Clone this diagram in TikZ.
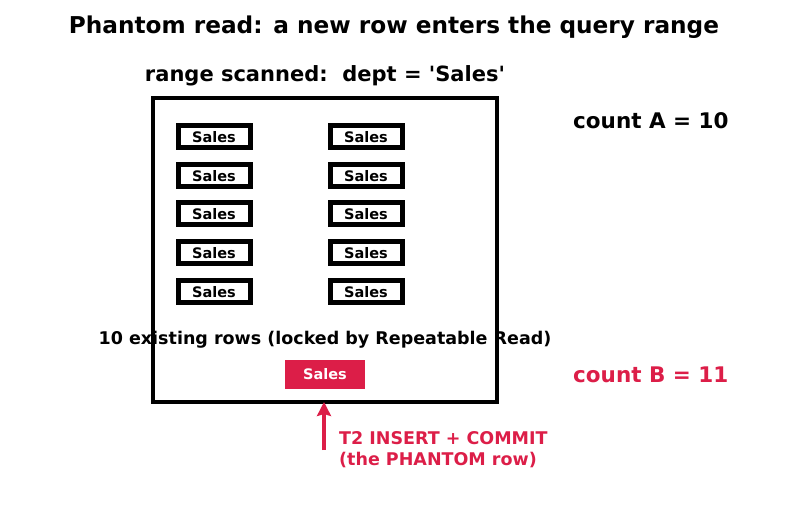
\documentclass[tikz,border=0pt]{standalone}
\usepackage{fontspec}
\setmainfont{DejaVu Sans}
\usetikzlibrary{arrows.meta}
\definecolor{phantomred}{RGB}{220,30,72}

\tikzset{
  rowbox/.style = {rectangle,
                   draw,
                   line width = 5pt,
                   fill = white,
                   minimum width = 72pt,
                   minimum height = 22pt,
                   inner sep = 0pt,
                   font = \bfseries\fontsize{14.5}{17}\selectfont},
  txtlbl/.style = {font = \bfseries\fontsize{17.5}{21}\selectfont}
}

\begin{document}
\begin{tikzpicture}[x=1pt,y=-1pt,->,>={Stealth[length=14pt,width=14pt,inset=2pt]}]

    \useasboundingbox (0,0) rectangle (787,510);

    \node[font = \bfseries\fontsize{23.2}{28}\selectfont] (title) at (394,27)
        {Phantom read: a new row enters the query range};
    \node[font = \bfseries\fontsize{21}{25}\selectfont] (scan) at (325,76)
        {range scanned:\ \ dept = \textquotesingle Sales\textquotesingle};

    \node[rectangle,
          draw,
          line width = 4.5pt,
          minimum width = 344pt,
          minimum height = 304pt
          ] (range) at (325,250) {};

    % left column
    \node[rowbox] (l1) at (214,137) {Sales};
    \node[rowbox] (l2) at (214,176) {Sales};
    \node[rowbox] (l3) at (214,214) {Sales};
    \node[rowbox] (l4) at (214,253) {Sales};
    \node[rowbox] (l5) at (214,292) {Sales};
    % right column
    \node[rowbox] (r1) at (366,137) {Sales};
    \node[rowbox] (r2) at (366,176) {Sales};
    \node[rowbox] (r3) at (366,214) {Sales};
    \node[rowbox] (r4) at (366,253) {Sales};
    \node[rowbox] (r5) at (366,292) {Sales};

    \node[txtlbl] (exist) at (325,340)
        {10 existing rows (locked by Repeatable Read)};

    \node[rectangle,
          fill = phantomred,
          text = white,
          minimum width = 80pt,
          minimum height = 29pt,
          font = \bfseries\fontsize{14.5}{17}\selectfont
          ] (phantom) at (325,374.5) {Sales};

    \node[txtlbl, text = phantomred, anchor = west, align = left, inner sep = 0pt] (ins) at (339,450)
        {T2 INSERT + COMMIT\\(the PHANTOM row)};
    \coordinate (start) at (324,450);
    \coordinate (hit) at (324,402);

    \node[font = \bfseries\fontsize{21.5}{25}\selectfont, anchor = west, inner sep = 0pt] (cA) at (573,121)
        {count A = 10};
    \node[font = \bfseries\fontsize{21.5}{25}\selectfont, anchor = west, inner sep = 0pt, text = phantomred] (cB) at (573,375)
        {count B = 11};

    \path[]
    (start) edge [draw = phantomred, line width = 3.5pt] node [right] {} (hit);

\end{tikzpicture}
\end{document}
